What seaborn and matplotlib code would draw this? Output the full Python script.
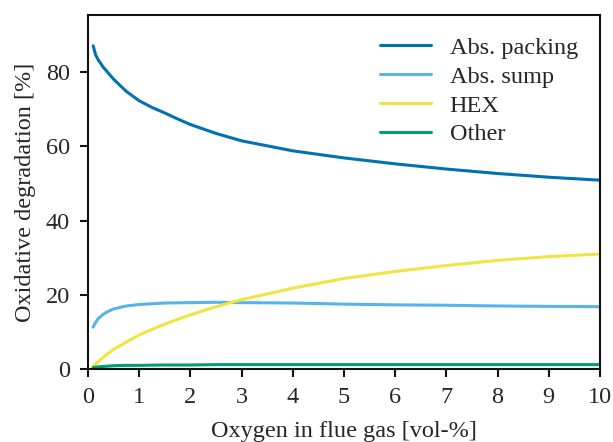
import matplotlib
matplotlib.use("Agg")
import matplotlib.pyplot as plt
import seaborn as sns
import pandas as pd

oxygen = [0.1, 0.15, 0.2, 0.3, 0.4, 0.5, 0.75, 1, 1.25, 1.5, 1.75, 2, 2.5, 3, 4, 5, 6, 7, 8, 9, 10]
abs_packing = [87.1, 84.6, 83.3, 81.3, 79.7, 78.1, 74.8, 72.3, 70.5, 69.0, 67.4, 65.9, 63.5, 61.5, 58.8, 56.9, 55.3, 53.9, 52.7, 51.7, 50.9]
abs_sump = [11.3, 12.6, 13.6, 14.8, 15.6, 16.2, 17.0, 17.4, 17.6, 17.8, 17.85, 17.9, 18.0, 17.9, 17.8, 17.5, 17.3, 17.2, 17.0, 16.9, 16.8]
hex_vals = [0.8, 1.4, 2.0, 3.2, 4.3, 5.3, 7.3, 9.2, 10.7, 12.1, 13.4, 14.6, 16.8, 18.7, 21.8, 24.4, 26.3, 27.9, 29.3, 30.3, 31.0]
other = [0.4, 0.5, 0.6, 0.7, 0.8, 0.9, 1.0, 1.0, 1.05, 1.1, 1.1, 1.1, 1.2, 1.2, 1.2, 1.2, 1.2, 1.2, 1.2, 1.2, 1.2]

series_names = ["Abs. packing", "Abs. sump", "HEX", "Other"]
colors = ["#0072B2", "#56B4E9", "#F0E442", "#009E73"]
xticks = list(range(0, 11))
yticks = [0, 20, 40, 60, 80]

frames = []
for name, vals in zip(series_names, [abs_packing, abs_sump, hex_vals, other]):
    frames.append(pd.DataFrame({"x": oxygen, "y": vals, "series": name}))
df = pd.concat(frames, ignore_index=True)

sns.set_style("ticks")
plt.rcParams["font.family"] = ["Liberation Serif", "DejaVu Serif"]

fs = 17.5
fig = plt.figure(figsize=(6.13, 4.42), dpi=100)
ax = fig.add_axes([0.1436, 0.165, 0.835, 0.801])

sns.lineplot(data=df, x="x", y="y", hue="series", hue_order=series_names,
             palette=colors, linewidth=2.2, ax=ax)

ax.set_xlim(0, 10)
ax.set_ylim(0, 95.4)
ax.set_xticks(xticks)
ax.set_yticks(yticks)
ax.set_xlabel("Oxygen in flue gas [vol-%]", fontsize=fs, labelpad=9)
ax.set_ylabel("Oxidative degradation [%]", fontsize=fs, labelpad=7)
ax.tick_params(axis="both", labelsize=fs, direction="out", length=6, width=1.5,
               color="#111111", pad=7)
for sp in ax.spines.values():
    sp.set_linewidth(1.5)
    sp.set_color("#111111")
    sp.set_visible(True)

leg = ax.legend(frameon=False, fontsize=fs, loc="upper right", handlelength=2.1,
                handletextpad=0.78, labelspacing=0.28)
for line in leg.get_lines():
    line.set_linewidth(2.2)

fig.savefig("out.png", dpi=100)
